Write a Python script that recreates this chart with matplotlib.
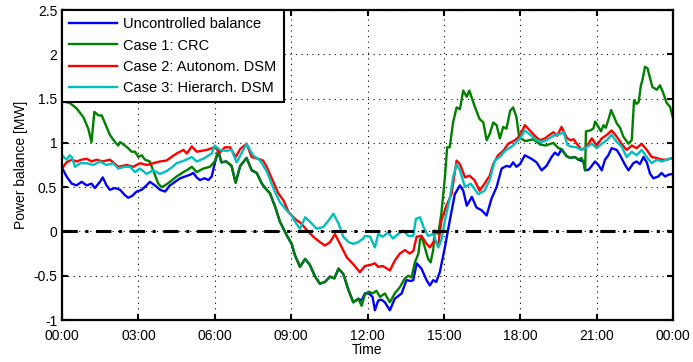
import numpy as np
import matplotlib
matplotlib.use('Agg')
import matplotlib.pyplot as plt

plt.rcParams['font.family'] = ['Liberation Sans', 'DejaVu Sans']
plt.rcParams['axes.unicode_minus'] = False

# hours of the day, values in MW
t_blue = [0.0, 0.18, 0.38, 0.57, 0.77, 0.97, 1.16, 1.29, 1.49, 1.6, 1.75, 1.88, 2.08, 2.28, 2.47, 2.6,
          2.75, 2.93, 3.13, 3.32, 3.45, 3.65, 3.85, 4.05, 4.24, 4.44, 4.64, 4.83, 5.03, 5.16, 5.29, 5.42,
          5.6, 5.75, 5.88, 6.0, 6.14, 6.26, 6.45, 6.66, 6.82, 7.0, 7.25, 7.45, 7.65, 7.85, 7.98, 8.17,
          8.37, 8.56, 8.82, 9.02, 9.15, 9.35, 9.55, 9.74, 9.94, 10.13, 10.33, 10.53, 10.7, 10.86, 11.05,
          11.25, 11.44, 11.64, 11.77, 11.9, 12.05, 12.2, 12.29, 12.42, 12.55, 12.68, 12.88, 13.07, 13.34,
          13.53, 13.7, 13.8, 13.93, 14.12, 14.32, 14.45, 14.58, 14.7, 14.84, 15.04, 15.23, 15.43, 15.63,
          15.76, 15.9, 16.1, 16.28, 16.48, 16.68, 16.87, 17.07, 17.27, 17.46, 17.6, 17.72, 17.85, 17.99,
          18.18, 18.44, 18.64, 18.84, 19.03, 19.23, 19.36, 19.49, 19.62, 19.82, 19.96, 20.15, 20.28, 20.48,
          20.55, 20.7, 20.94, 21.07, 21.2, 21.33, 21.46, 21.59, 21.79, 21.92, 22.12, 22.25, 22.44, 22.57,
          22.7, 22.84, 22.97, 23.1, 23.23, 23.42, 23.55, 23.69, 23.82, 24.0]
uncontrolled = [0.72, 0.62, 0.54, 0.52, 0.56, 0.52, 0.54, 0.49, 0.56, 0.61, 0.52, 0.47, 0.49, 0.47, 0.41, 0.38,
                0.40, 0.45, 0.47, 0.52, 0.56, 0.52, 0.47, 0.45, 0.52, 0.56, 0.60, 0.62, 0.64, 0.66, 0.61, 0.58,
                0.60, 0.58, 0.62, 0.77, 0.91, 0.78, 0.79, 0.74, 0.55, 0.74, 0.83, 0.69, 0.66, 0.54, 0.49, 0.43,
                0.28, 0.11, -0.04, -0.14, -0.27, -0.40, -0.31, -0.38, -0.51, -0.59, -0.57, -0.51, -0.53, -0.42, -0.48,
                -0.66, -0.80, -0.76, -0.78, -0.70, -0.70, -0.74, -0.89, -0.78, -0.77, -0.80, -0.89, -0.76, -0.70,
                -0.55, -0.56, -0.55, -0.36, -0.42, -0.55, -0.61, -0.55, -0.57, -0.46, -0.18, 0.12, 0.42, 0.52,
                0.46, 0.29, 0.39, 0.27, 0.24, 0.18, 0.37, 0.50, 0.71, 0.74, 0.73, 0.78, 0.73, 0.76,
                0.86, 0.82, 0.78, 0.69, 0.74, 0.84, 0.89, 0.86, 0.93, 0.85, 0.83, 0.84, 0.81, 0.79,
                0.69, 0.70, 0.79, 0.75, 0.69, 0.81, 0.86, 0.94, 0.92, 0.86, 0.75, 0.69, 0.77, 0.79,
                0.76, 0.84, 0.78, 0.65, 0.60, 0.62, 0.66, 0.62, 0.64, 0.65]

t_green = [0.0, 0.31, 0.57, 0.84, 1.03, 1.16, 1.27, 1.43, 1.56, 1.69, 1.88, 2.08, 2.21, 2.28, 2.47, 2.6,
           2.73, 2.87, 3.0, 3.13, 3.26, 3.45, 3.58, 3.78, 3.91, 4.05, 4.24, 4.5, 4.77, 4.95, 5.1, 5.29,
           5.55, 5.81, 6.0, 6.14, 6.26, 6.45, 6.66, 6.82, 7.0, 7.25, 7.45, 7.65, 7.85, 7.98, 8.17, 8.37,
           8.56, 8.82, 9.02, 9.15, 9.35, 9.55, 9.74, 9.94, 10.13, 10.33, 10.53, 10.7, 10.86, 11.05, 11.25,
           11.44, 11.64, 11.77, 11.9, 12.05, 12.2, 12.35, 12.49, 12.68, 12.88, 13.07, 13.27, 13.47, 13.6,
           13.73, 13.86, 14.0, 14.06, 14.12, 14.25, 14.38, 14.48, 14.58, 14.64, 14.78, 14.9, 15.04, 15.13,
           15.23, 15.36, 15.5, 15.63, 15.76, 15.9, 16.0, 16.2, 16.4, 16.55, 16.68, 16.8, 16.94, 17.07,
           17.2, 17.33, 17.46, 17.6, 17.72, 17.85, 17.96, 18.2, 18.5, 18.8, 19.0, 19.3, 19.5, 19.62,
           19.82, 19.96, 20.15, 20.28, 20.4, 20.48, 20.55, 20.58, 20.74, 20.87, 20.94, 21.07, 21.17, 21.27,
           21.36, 21.46, 21.57, 21.66, 21.79, 21.92, 22.05, 22.25, 22.38, 22.47, 22.57, 22.65, 22.74, 22.8,
           22.9, 23.0, 23.1, 23.19, 23.36, 23.49, 23.62, 23.75, 23.88, 24.0]
case1_crc = [1.47, 1.45, 1.39, 1.29, 1.16, 1.01, 1.35, 1.31, 1.31, 1.22, 1.09, 1.01, 0.97, 1.01, 0.97, 0.94,
             0.90, 0.90, 0.84, 0.86, 0.81, 0.79, 0.69, 0.54, 0.50, 0.52, 0.56, 0.62, 0.67, 0.70, 0.73, 0.67,
             0.71, 0.73, 0.79, 0.91, 0.78, 0.79, 0.74, 0.55, 0.74, 0.83, 0.69, 0.66, 0.54, 0.49, 0.43, 0.28,
             0.11, -0.04, -0.14, -0.27, -0.40, -0.31, -0.38, -0.51, -0.59, -0.57, -0.51, -0.53, -0.42, -0.48, -0.66,
             -0.80, -0.76, -0.84, -0.71, -0.68, -0.70, -0.67, -0.74, -0.70, -0.80, -0.70, -0.63, -0.53, -0.50,
             -0.52, -0.35, -0.25, -0.10, -0.05, -0.18, -0.31, -0.35, -0.21, 0.01, -0.03, 0.20, 0.61, 0.95,
             0.95, 1.23, 1.40, 1.38, 1.59, 1.52, 1.59, 1.42, 1.27, 1.23, 1.03, 1.10, 1.23, 1.20,
             1.05, 1.18, 1.16, 1.36, 1.40, 1.29, 1.06, 1.02, 1.04, 0.98, 0.97, 1.00, 0.94, 0.93,
             0.85, 0.83, 0.84, 0.81, 0.83, 0.79, 0.69, 1.13, 1.14, 1.16, 1.24, 1.18, 1.13, 1.20,
             1.17, 1.26, 1.37, 1.31, 1.22, 1.17, 1.07, 0.99, 1.03, 1.48, 1.44, 1.46, 1.65, 1.71,
             1.86, 1.84, 1.73, 1.63, 1.60, 1.65, 1.56, 1.45, 1.41, 1.28]

t_red = [0.0, 0.18, 0.38, 0.57, 0.77, 0.97, 1.16, 1.36, 1.6, 1.88, 2.05, 2.21, 2.54, 2.8, 3.06, 3.32,
         3.58, 3.85, 4.1, 4.3, 4.5, 4.77, 4.9, 5.1, 5.29, 5.5, 5.68, 6.0, 6.2, 6.4, 6.6, 6.82, 7.0, 7.25,
         7.45, 7.7, 7.9, 8.04, 8.3, 8.5, 8.7, 8.9, 9.02, 9.2, 9.4, 9.6, 9.87, 10.13, 10.33, 10.53, 10.72,
         10.92, 11.18, 11.44, 11.7, 11.9, 12.1, 12.29, 12.42, 12.6, 12.88, 13.07, 13.27, 13.47, 13.66, 13.8,
         13.93, 14.12, 14.32, 14.45, 14.64, 14.78, 14.9, 15.1, 15.3, 15.5, 15.63, 15.83, 16.0, 16.2, 16.4,
         16.6, 16.8, 16.94, 17.13, 17.33, 17.53, 17.79, 17.99, 18.18, 18.38, 18.57, 18.77, 18.97, 19.1, 19.3,
         19.45, 19.62, 19.82, 19.96, 20.1, 20.22, 20.41, 20.61, 20.81, 21.0, 21.2, 21.4, 21.59, 21.79, 21.98,
         22.18, 22.38, 22.57, 22.77, 22.97, 23.16, 23.36, 23.56, 23.75, 24.0]
case2_autonom = [0.71, 0.78, 0.81, 0.79, 0.81, 0.82, 0.79, 0.81, 0.79, 0.81, 0.77, 0.73, 0.75, 0.73, 0.77, 0.75,
                 0.77, 0.79, 0.80, 0.84, 0.88, 0.92, 0.88, 0.96, 0.90, 0.91, 0.92, 0.95, 0.89, 0.95, 0.95, 0.84, 0.93, 0.99,
                 0.84, 0.82, 0.80, 0.73, 0.56, 0.43, 0.35, 0.22, 0.18, 0.13, 0.09, 0.02, -0.06, -0.12, -0.16, -0.12, -0.03,
                 -0.14, -0.29, -0.37, -0.46, -0.39, -0.38, -0.36, -0.40, -0.39, -0.44, -0.33, -0.25, -0.21, -0.25, -0.22,
                 -0.06, -0.05, -0.14, -0.18, -0.10, -0.16, 0.12, 0.29, 0.42, 0.80, 0.76, 0.61, 0.63, 0.58, 0.46,
                 0.54, 0.63, 0.76, 0.86, 0.91, 0.99, 1.03, 1.08, 1.20, 1.14, 1.08, 1.03, 1.05, 1.08, 1.12,
                 1.08, 1.18, 1.06, 1.03, 1.04, 0.99, 0.92, 0.96, 1.05, 0.97, 1.05, 1.09, 1.14, 1.07, 0.99,
                 0.92, 0.97, 0.94, 0.99, 0.92, 0.84, 0.83, 0.81, 0.81, 0.83]

t_cyan = [0.0, 0.18, 0.3, 0.38, 0.51, 0.71, 0.97, 1.23, 1.49, 1.75, 2.01, 2.21, 2.45, 2.67, 2.87, 3.06,
          3.32, 3.58, 3.85, 4.1, 4.3, 4.5, 4.8, 5.1, 5.29, 5.55, 5.88, 6.0, 6.2, 6.45, 6.66, 6.86, 7.05,
          7.25, 7.5, 7.78, 8.04, 8.3, 8.56, 8.82, 9.02, 9.2, 9.35, 9.55, 9.74, 10.0, 10.26, 10.46, 10.66,
          10.86, 11.05, 11.25, 11.44, 11.64, 11.83, 11.9, 12.1, 12.29, 12.42, 12.6, 12.81, 13.0, 13.2, 13.4,
          13.6, 13.8, 13.9, 14.06, 14.2, 14.38, 14.58, 14.78, 14.9, 15.04, 15.23, 15.36, 15.5, 15.63, 15.83,
          16.05, 16.35, 16.6, 16.8, 17.0, 17.2, 17.4, 17.72, 17.99, 18.18, 18.44, 18.64, 18.84, 19.03, 19.3,
          19.56, 19.7, 19.85, 19.96, 20.2, 20.41, 20.6, 20.81, 21.0, 21.2, 21.4, 21.59, 21.79, 21.98, 22.18,
          22.38, 22.57, 22.77, 22.97, 23.16, 23.36, 23.56, 23.75, 24.0]
case3_hierarch = [0.86, 0.81, 0.86, 0.84, 0.73, 0.77, 0.77, 0.75, 0.79, 0.75, 0.77, 0.71, 0.73, 0.73, 0.67, 0.71,
                  0.65, 0.69, 0.65, 0.68, 0.72, 0.77, 0.80, 0.84, 0.79, 0.82, 0.88, 0.97, 0.92, 0.91, 0.92, 0.78, 0.88,
                  0.99, 0.86, 0.80, 0.68, 0.49, 0.33, 0.24, 0.18, 0.09, 0.03, 0.16, 0.11, 0.03, 0.05, 0.12, 0.20,
                  0.09, -0.06, -0.12, -0.14, -0.12, -0.08, -0.05, -0.06, -0.18, -0.03, -0.06, -0.01, -0.08, -0.03, 0.01,
                  -0.05, -0.05, 0.14, 0.16, 0.05, -0.05, -0.03, -0.18, -0.10, 0.12, 0.37, 0.61, 0.76, 0.69, 0.50,
                  0.54, 0.42, 0.46, 0.58, 0.80, 0.84, 0.91, 0.97, 1.05, 1.14, 1.08, 1.03, 1.01, 1.03, 1.08,
                  1.10, 1.12, 0.98, 0.96, 0.95, 0.92, 0.95, 0.99, 0.94, 0.99, 1.03, 1.09, 1.01, 0.96, 0.84,
                  0.90, 0.86, 0.92, 0.84, 0.77, 0.81, 0.79, 0.81, 0.83]

hour_ticks = [0, 3, 6, 9, 12, 15, 18, 21, 24]
hour_labels = ['00:00', '03:00', '06:00', '09:00', '12:00', '15:00', '18:00', '21:00', '00:00']

fig = plt.figure(figsize=(6.93, 3.62), dpi=100)
ax = fig.add_axes([62 / 693, 42 / 362, 611 / 693, 310 / 362])

lw = 1.7
ax.plot(t_blue, uncontrolled, color=(0, 0, 1), lw=lw, label='Uncontrolled balance')
ax.plot(t_green, case1_crc, color=(0, 0.5, 0), lw=lw, label='Case 1: CRC')
ax.plot(t_red, case2_autonom, color=(1, 0, 0), lw=lw, label='Case 2: Autonom. DSM')
ax.plot(t_cyan, case3_hierarch, color=(0, 0.75, 0.75), lw=lw, label='Case 3: Hierarch. DSM')
ax.axhline(0, color='k', lw=2.2, ls=(0, (5, 2.5, 1, 2.5)), zorder=5)

ax.set_xlim(0, 24)
ax.set_ylim(-1, 2.5)
ax.set_xticks(hour_ticks)
ax.set_xticklabels(hour_labels)
ax.set_yticks(np.arange(-1, 2.51, 0.5))
ax.set_yticklabels(['-1', '-0.5', '0', '0.5', '1', '1.5', '2', '2.5'])
ax.tick_params(direction='in', length=4, width=1.5, top=True, right=True, labelsize=10)
ax.tick_params(axis='x', pad=6.5)
ax.grid(True, color='k', ls=(0, (1, 4)), lw=0.8)
for s in ax.spines.values():
    s.set_linewidth(1.6)

ax.set_xlabel('Time', fontsize=10, labelpad=0)
ax.set_ylabel('Power balance [MW]', fontsize=10, labelpad=4)

leg = ax.legend(loc='upper left', prop={'size': 10.5}, fancybox=False, framealpha=1, edgecolor='k',
                borderaxespad=0, handlelength=3.3, labelspacing=0.5, borderpad=0.5, handletextpad=0.4)
leg.get_frame().set_linewidth(1.5)

fig.savefig('out.png', dpi=100)
